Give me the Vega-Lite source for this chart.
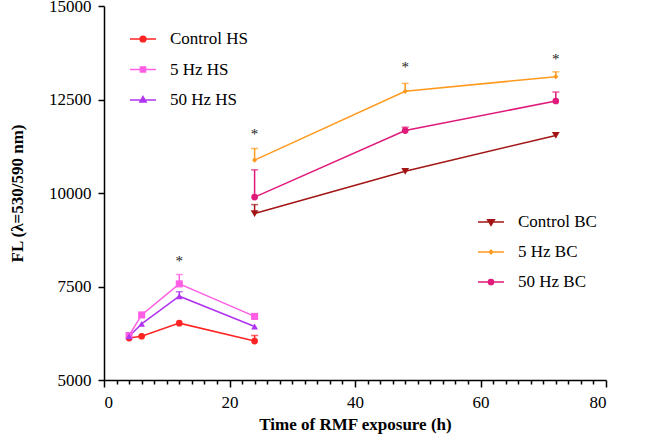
{
  "$schema": "https://vega.github.io/schema/vega-lite/v6.json",
  "autosize": {"type": "none"},
  "padding": {"left": 104, "top": 6, "right": 55, "bottom": 63},
  "width": 502,
  "height": 374,
  "background": "white",
  "config": {
    "view": {"stroke": null},
    "font": "Liberation Serif",
    "style": {
      "guide-label": {"font": "Liberation Serif", "fontSize": 17, "fill": "black"},
      "guide-title": {"font": "Liberation Serif", "fontSize": 17, "fill": "black", "fontWeight": "bold"}
    },
    "axis": {
      "domainColor": "black",
      "domainWidth": 1.5,
      "tickColor": "black",
      "tickWidth": 1.5,
      "labelFont": "Liberation Serif",
      "labelFontSize": 17,
      "labelColor": "black",
      "titleFont": "Liberation Serif",
      "titleFontSize": 17,
      "titleFontWeight": "bold",
      "titleColor": "black",
      "grid": false
    },
    "legend": {
      "labelFont": "Liberation Serif",
      "labelFontSize": 17,
      "labelColor": "black",
      "padding": 0,
      "symbolSize": 676,
      "symbolStrokeWidth": 1.5,
      "labelOffset": 13
    }
  },
  "datasets": {
    "hs": [
      {"series": "Control HS", "time": 4, "fl": 6120},
      {"series": "Control HS", "time": 6, "fl": 6170},
      {"series": "Control HS", "time": 12, "fl": 6520},
      {"series": "Control HS", "time": 24, "fl": 6040, "err_top": 6190},
      {"series": "5 Hz HS", "time": 4, "fl": 6190},
      {"series": "5 Hz HS", "time": 6, "fl": 6740},
      {"series": "5 Hz HS", "time": 12, "fl": 7570, "err_top": 7820},
      {"series": "5 Hz HS", "time": 24, "fl": 6700},
      {"series": "50 Hz HS", "time": 4, "fl": 6170},
      {"series": "50 Hz HS", "time": 6, "fl": 6500},
      {"series": "50 Hz HS", "time": 12, "fl": 7240, "err_top": 7360},
      {"series": "50 Hz HS", "time": 24, "fl": 6430}
    ],
    "bc": [
      {"series": "Control BC", "time": 24, "fl": 9450, "err_top": 9690},
      {"series": "Control BC", "time": 48, "fl": 10580},
      {"series": "Control BC", "time": 72, "fl": 11540},
      {"series": "5 Hz BC", "time": 24, "fl": 10880, "err_top": 11190},
      {"series": "5 Hz BC", "time": 48, "fl": 12720, "err_top": 12930},
      {"series": "5 Hz BC", "time": 72, "fl": 13110, "err_top": 13240},
      {"series": "50 Hz BC", "time": 24, "fl": 9890, "err_top": 10620},
      {"series": "50 Hz BC", "time": 48, "fl": 11670, "err_top": 11760},
      {"series": "50 Hz BC", "time": 72, "fl": 12460, "err_top": 12700}
    ],
    "stars": [
      {"time": 12, "fl": 8220, "mark": "*"},
      {"time": 24, "fl": 11600, "mark": "*"},
      {"time": 48, "fl": 13400, "mark": "*"},
      {"time": 72, "fl": 13600, "mark": "*"}
    ]
  },
  "layer": [
    {
      "data": {"name": "hs"},
      "encoding": {
        "x": {
          "field": "time", "type": "quantitative",
          "scale": {"domain": [0, 80], "nice": false},
          "axis": {"orient": "bottom", "values": [0, 20, 40, 60, 80], "tickSize": 7, "labelPadding": 7, "labelFont": "Liberation Serif", "title": "Time of RMF exposure (h)", "titlePadding": 6}
        },
        "y": {
          "field": "fl", "type": "quantitative",
          "scale": {"domain": [5000, 15000], "nice": false},
          "axis": {"values": [5000, 7500, 10000, 12500, 15000], "format": "d", "tickSize": 6, "labelPadding": 7, "labelFont": "Liberation Serif", "title": "FL (λ=530/590 nm)", "titlePadding": 22}
        },
        "color": {
          "field": "series", "type": "nominal",
          "scale": {"domain": ["Control HS", "5 Hz HS", "50 Hz HS"], "range": ["#ff2424", "#ff5fe4", "#b034f0"]},
          "legend": {
            "title": null, "orient": "none", "legendX": 25, "legendY": 19, "rowPadding": 8.5,
            "labelFont": "Liberation Serif",
            "encode": {
              "symbols": {
                "update": {
                  "shape": {"signal": "datum.value == 'Control HS' ? 'M-1,0L1,0M-0.22,0A0.22,0.22,0,1,0,0.22,0A0.22,0.22,0,1,0,-0.22,0Z' : datum.value == '5 Hz HS' ? 'M-1,0L1,0M-0.2,-0.2L0.2,-0.2L0.2,0.2L-0.2,0.2Z' : 'M-1,0L1,0M0,-0.26L0.24,0.16L-0.24,0.16Z'"},
                  "size": {"value": 676},
                  "fill": {"signal": "datum.value == 'Control HS' ? '#ff2424' : datum.value == '5 Hz HS' ? '#ff5fe4' : '#b034f0'"},
                  "stroke": {"signal": "datum.value == 'Control HS' ? '#ff2424' : datum.value == '5 Hz HS' ? '#ff5fe4' : '#b034f0'"},
                  "strokeWidth": {"value": 1.5}
                }
              }
            }
          }
        }
      },
      "layer": [
        {"mark": {"type": "line", "strokeWidth": 1.5}},
        {
          "transform": [{"filter": "isValid(datum.err_top)"}],
          "mark": {"type": "rule", "strokeWidth": 1.5},
          "encoding": {"y2": {"field": "err_top"}}
        },
        {
          "transform": [{"filter": "isValid(datum.err_top)"}],
          "mark": {"type": "tick", "orient": "horizontal", "size": 7, "thickness": 1.5},
          "encoding": {"y": {"field": "err_top", "type": "quantitative", "title": "FL (λ=530/590 nm)"}}
        },
        {
          "mark": {"type": "point", "filled": true, "opacity": 1},
          "encoding": {
            "shape": {"condition": [{"test": "datum.series == 'Control HS'", "value": "circle"}, {"test": "datum.series == '5 Hz HS'", "value": "square"}], "value": "triangle-up"},
            "size": {"condition": [{"test": "datum.series == '5 Hz HS'", "value": 50}], "value": 45}
          }
        }
      ]
    },
    {
      "data": {"name": "bc"},
      "encoding": {
        "x": {"field": "time", "type": "quantitative", "scale": {"domain": [0, 80], "nice": false}, "axis": null},
        "y": {"field": "fl", "type": "quantitative", "scale": {"domain": [5000, 15000], "nice": false}, "title": "FL (λ=530/590 nm)"},
        "color": {
          "field": "series", "type": "nominal",
          "scale": {"domain": ["Control BC", "5 Hz BC", "50 Hz BC"], "range": ["#a31515", "#ff9a1f", "#e01a7a"]},
          "legend": {
            "title": null, "orient": "none", "legendX": 373, "legendY": 202, "rowPadding": 8,
            "labelFont": "Liberation Serif",
            "encode": {
              "symbols": {
                "update": {
                  "shape": {"signal": "datum.value == 'Control BC' ? 'M-1,0L1,0M0,0.26L0.26,-0.18L-0.26,-0.18Z' : datum.value == '5 Hz BC' ? 'M-1,0L1,0M0,-0.14L0.14,0L0,0.14L-0.14,0Z' : 'M-1,0L1,0M-0.2,0A0.2,0.2,0,1,0,0.2,0A0.2,0.2,0,1,0,-0.2,0Z'"},
                  "size": {"value": 676},
                  "fill": {"signal": "datum.value == 'Control BC' ? '#a31515' : datum.value == '5 Hz BC' ? '#ff9a1f' : '#e01a7a'"},
                  "stroke": {"signal": "datum.value == 'Control BC' ? '#a31515' : datum.value == '5 Hz BC' ? '#ff9a1f' : '#e01a7a'"},
                  "strokeWidth": {"value": 1.5}
                }
              }
            }
          }
        }
      },
      "layer": [
        {"mark": {"type": "line", "strokeWidth": 1.5}},
        {
          "transform": [{"filter": "isValid(datum.err_top)"}],
          "mark": {"type": "rule", "strokeWidth": 1.5},
          "encoding": {"y2": {"field": "err_top"}}
        },
        {
          "transform": [{"filter": "isValid(datum.err_top)"}],
          "mark": {"type": "tick", "orient": "horizontal", "size": 7, "thickness": 1.5},
          "encoding": {"y": {"field": "err_top", "type": "quantitative", "title": "FL (λ=530/590 nm)"}}
        },
        {
          "mark": {"type": "point", "filled": true, "opacity": 1},
          "encoding": {
            "shape": {"condition": [{"test": "datum.series == 'Control BC'", "value": "triangle-down"}, {"test": "datum.series == '5 Hz BC'", "value": "diamond"}], "value": "circle"},
            "size": {"condition": [{"test": "datum.series == 'Control BC'", "value": 60}, {"test": "datum.series == '5 Hz BC'", "value": 28}], "value": 45}
          }
        }
      ]
    },
    {
      "data": {"name": "stars"},
      "mark": {"type": "text", "fontSize": 15, "baseline": "alphabetic", "dy": 6, "color": "#222222", "font": "Liberation Serif"},
      "encoding": {
        "x": {"field": "time", "type": "quantitative", "scale": {"domain": [0, 80], "nice": false}, "axis": null},
        "y": {"field": "fl", "type": "quantitative", "scale": {"domain": [5000, 15000], "nice": false}, "title": "FL (λ=530/590 nm)"},
        "text": {"field": "mark"}
      }
    },
    {
      "data": {"name": "stars"},
      "mark": {"type": "point", "opacity": 0},
      "encoding": {
        "x": {
          "field": "time", "type": "quantitative", "scale": {"domain": [0, 80], "nice": false},
          "axis": {"orient": "bottom", "values": [2, 4, 6, 8, 10, 12, 14, 16, 18, 22, 24, 26, 28, 30, 32, 34, 36, 38, 42, 44, 46, 48, 50, 52, 54, 56, 58, 62, 64, 66, 68, 70, 72, 74, 76, 78], "tickSize": 4, "labels": false, "domain": false, "title": null}
        },
        "y": {"field": "fl", "type": "quantitative", "scale": {"domain": [5000, 15000], "nice": false}, "title": "FL (λ=530/590 nm)"}
      }
    }
  ],
  "resolve": {
    "scale": {"color": "independent"},
    "axis": {"x": "independent"},
    "legend": {"color": "independent"}
  }
}
